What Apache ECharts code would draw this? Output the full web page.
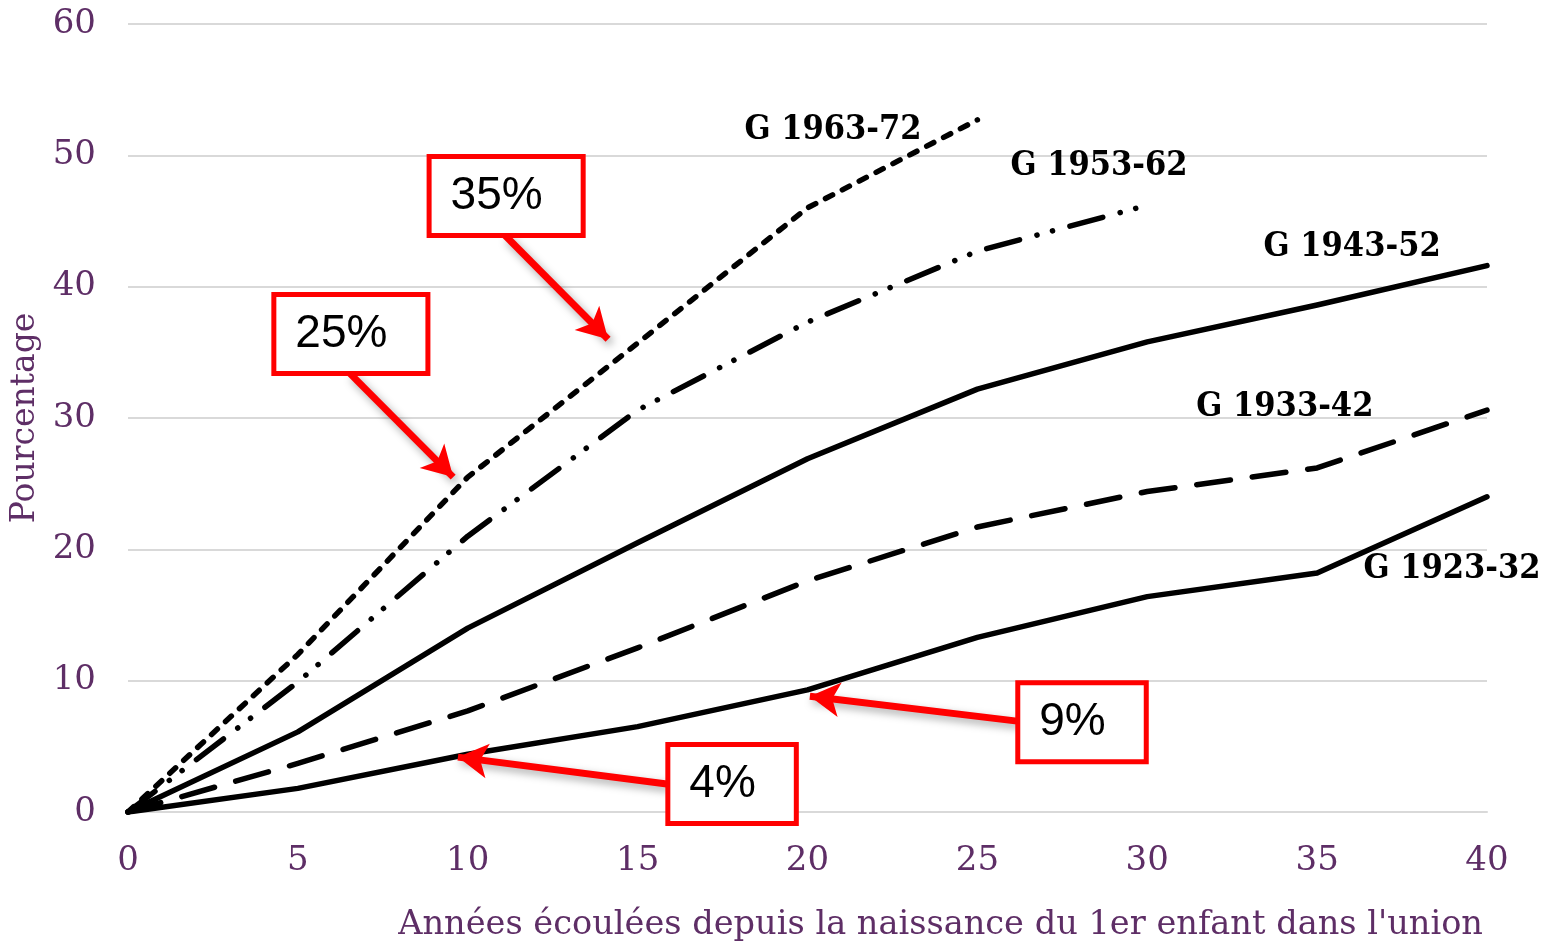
<!DOCTYPE html>
<html><head><meta charset="utf-8">
<script src="https://cdn.jsdelivr.net/npm/echarts@6/dist/echarts.min.js"></script>
<style>html,body{margin:0;padding:0;background:#fff}#c{width:1546px;height:942px}</style>
</head><body><div id="c"></div>
<script>
const years = [0, 5, 10, 15, 20, 25, 30, 35, 40];
const g1923 = [0, 1.8, 4.4, 6.5, 9.3, 13.3, 16.4, 18.2, 24.0];
const g1933 = [0, 3.7, 7.7, 12.5, 17.6, 21.7, 24.4, 26.2, 30.6];
const g1943 = [0, 6.1, 14.0, 20.5, 26.9, 32.2, 35.8, 38.6, 41.6];
const g1953 = [0, 9.9, 21.0, 30.6, 37.3, 42.7, 46.2];
const g1963 = [0, 12.0, 25.5, 35.7, 46.0, 52.7];
const seriesNames = ['G 1923-32', 'G 1933-42', 'G 1943-52', 'G 1953-62', 'G 1963-72'];
// label anchor positions (data coords)
const labelPos = [[38.97, 18.5], [34.05, 30.8], [36.03, 43.0], [28.58, 49.2], [20.75, 51.9]];
// annotation boxes: text, box centre, arrow start, arrow end (data coords)
const noteTexts = ['35%', '25%', '9%', '4%'];
const noteBox = [[11.13, 46.9], [6.56, 36.4], [28.08, 6.84], [17.78, 2.13]];
const noteFrom = [[11.1, 43.9], [6.53, 33.4], [26.17, 6.92], [15.86, 2.13]];
const noteTo = [[14.13, 36.0], [9.57, 25.5], [20.07, 8.82], [9.71, 4.18]];

const purple = '#5e2e66';
const serifFont = '"DejaVu Serif", serif';
const condFont = '"DejaVu Serif Condensed", "DejaVu Serif", serif';

function pairs(vals) { return vals.map((v, i) => [years[i], v]); }

const styles = [
  'solid',
  [34, 22],
  'solid',
  [34, 18, 0.1, 16, 0.1, 18],
  [8, 11]
];
const datas = [g1923, g1933, g1943, g1953, g1963];

const series = datas.map((d, i) => ({
  name: seriesNames[i],
  type: 'line',
  data: pairs(d),
  symbol: 'none',
  z: 3,
  lineStyle: { color: '#000', width: 5.5, cap: 'round', join: 'round', type: styles[i] },
  markPoint: {
    symbolSize: 0,
    silent: true,
    data: [{ coord: labelPos[i], value: seriesNames[i] }],
    label: {
      show: true, position: 'inside', formatter: seriesNames[i],
      color: '#000', fontWeight: 'bold', fontSize: 34, fontFamily: condFont
    }
  }
}));

series.push({
  name: 'notes',
  type: 'line',
  data: [],
  z: 10,
  markLine: {
    silent: true,
    symbol: ['none', 'arrow'],
    symbolSize: [26, 30],
    label: { show: false },
    lineStyle: { color: '#ff0000', width: 7, type: 'solid', shadowColor: 'rgba(0,0,0,0.35)', shadowBlur: 8, shadowOffsetX: 3, shadowOffsetY: 4 },
    data: noteFrom.map((f, i) => [{ coord: f, symbol: 'none' }, { coord: noteTo[i], symbol: 'arrow' }])
  },
  markPoint: {
    symbolSize: 0,
    silent: true,
    data: noteBox.map((b, i) => ({ coord: b, value: noteTexts[i] })),
    label: {
      show: true, position: 'inside',
      formatter: p => p.value,
      color: '#000', fontSize: 46, fontFamily: '"Liberation Sans", Arial, sans-serif',
      backgroundColor: '#fff', borderColor: '#ff0000', borderWidth: 5,
      padding: [14, 38, 14, 19], lineHeight: 46
    }
  }
});

const chart = echarts.init(document.getElementById('c'), null, { renderer: 'canvas' });
chart.setOption({
  animation: false,
  grid: { left: 128, right: 59, top: 24, bottom: 129 },
  xAxis: {
    type: 'value', min: 0, max: 40, interval: 5,
    name: "Années écoulées depuis la naissance du 1er enfant dans l'union",
    nameLocation: 'end', nameGap: -4,
    nameTextStyle: { color: purple, fontSize: 33.6, fontFamily: serifFont, align: 'right', verticalAlign: 'top', padding: [96, 0, 0, 0] },
    axisLine: { show: true, lineStyle: { color: '#d9d9d9', width: 2 } },
    axisTick: { show: false },
    splitLine: { show: false },
    axisLabel: { color: purple, fontSize: 34, fontFamily: serifFont, margin: 32 }
  },
  yAxis: {
    type: 'value', min: 0, max: 60, interval: 10,
    name: 'Pourcentage', nameLocation: 'middle', nameGap: 84,
    nameTextStyle: { color: purple, fontSize: 33, fontFamily: serifFont },
    axisLine: { show: false }, axisTick: { show: false },
    splitLine: { lineStyle: { color: '#d9d9d9', width: 2 } },
    axisLabel: { color: purple, fontSize: 34, fontFamily: serifFont, margin: 32 }
  },
  series: series
});
</script></body></html>
